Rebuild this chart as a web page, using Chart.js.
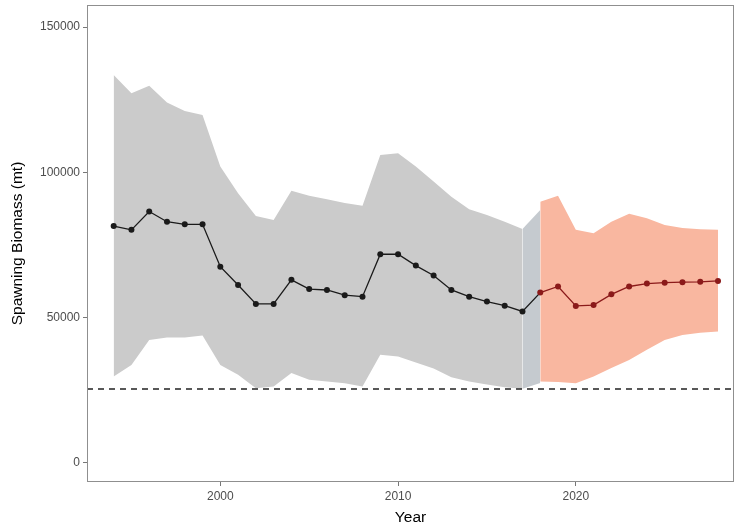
<!DOCTYPE html>
<html>
<head>
<meta charset="utf-8">
<script src="https://cdn.jsdelivr.net/npm/chart.js@4/dist/chart.umd.min.js"></script>
<style>
  html, body { margin: 0; padding: 0; background: #fff; }
  #wrap { width: 738px; height: 527px; }
</style>
</head>
<body>
<div id="wrap"><canvas id="chart" width="738" height="527"></canvas></div>
<script>
// values
const years = [1994, 1995, 1996, 1997, 1998, 1999, 2000, 2001, 2002, 2003, 2004, 2005,
  2006, 2007, 2008, 2009, 2010, 2011, 2012, 2013, 2014, 2015, 2016, 2017,
  2018, 2019, 2020, 2021, 2022, 2023, 2024, 2025, 2026, 2027, 2028];
const biomass = [81500, 80200, 86500, 83000, 82100, 82100, 67500, 61200, 54700, 54700, 63000, 59800,
  59500, 57700, 57200, 71800, 71800, 67900, 64500, 59500, 57200, 55500, 54100, 52100,
  58600, 60700, 54000, 54300, 58000, 60700, 61700, 62000, 62200, 62300, 62600];

const histYears = [1994, 1995, 1996, 1997, 1998, 1999, 2000, 2001, 2002, 2003, 2004, 2005,
  2006, 2007, 2008, 2009, 2010, 2011, 2012, 2013, 2014, 2015, 2016, 2017];
const histUpper = [133500, 127200, 129800, 124000, 121100, 119700, 102000, 92800, 85000, 83600, 93700, 91900,
  90700, 89400, 88500, 106000, 106600, 102000, 96800, 91600, 87300, 85300, 83000, 80500];
const histLower = [29700, 33700, 42300, 43100, 43100, 43800, 33700, 30300, 25700, 26300, 30900, 28600,
  28000, 27400, 26300, 37200, 36600, 34500, 32500, 29500, 28000, 27000, 26000, 25500];

const bridgeYears = [2017, 2018];
const bridgeUpper = [80500, 87000];
const bridgeLower = [25500, 27500];

const projYears = [2018, 2019, 2020, 2021, 2022, 2023, 2024, 2025, 2026, 2027, 2028];
const projUpper = [89900, 91900, 80200, 79000, 83000, 85700, 84200, 81900, 80800, 80400, 80200];
const projLower = [28000, 27800, 27400, 29700, 32600, 35400, 38900, 42300, 44000, 44800, 45200];

const refLevel = 25400;
const firstProjYear = 2018;

const xTicks = [2000, 2010, 2020];
const yTicks = [0, 50000, 100000, 150000];

const xMin = 1992.5, xMax = 2028.9;
const yMin = -6600, yMax = 157600;

const black = '#1a1a1a';
const red = '#8b1a1a';
const tickColor = '#4d4d4d';
const font = 'Liberation Sans, Arial, Helvetica, sans-serif';

function pts(xs, ys) {
  return xs.map((x, i) => ({ x: x, y: ys[i] }));
}

function band(xs, ys, color, fill) {
  return {
    data: pts(xs, ys),
    borderWidth: 0,
    pointRadius: 0,
    backgroundColor: color,
    fill: fill,
    tension: 0
  };
}

const projStart = years.indexOf(firstProjYear);

const panelBorder = {
  id: 'panelBorder',
  afterDraw(chart) {
    const a = chart.chartArea;
    const ctx = chart.ctx;
    ctx.save();
    ctx.strokeStyle = '#8f8f8f';
    ctx.lineWidth = 1;
    ctx.strokeRect(a.left + 0.5, a.top + 0.5, a.right - a.left - 1, a.bottom - a.top - 1);
    ctx.restore();
  }
};

new Chart(document.getElementById('chart'), {
  type: 'line',
  data: {
    datasets: [
      {
        data: pts(years, biomass),
        borderColor: black,
        borderWidth: 1.3,
        pointRadius: 3,
        pointBackgroundColor: years.map(y => y >= firstProjYear ? red : black),
        pointBorderWidth: 0,
        fill: false,
        tension: 0,
        segment: {
          borderColor: c => c.p0DataIndex >= projStart ? red : black
        }
      },
      {
        data: [{ x: xMin, y: refLevel }, { x: xMax, y: refLevel }],
        borderColor: '#222',
        borderWidth: 1.5,
        borderDash: [6, 5],
        pointRadius: 0,
        fill: false
      },
      band(histYears, histLower, 'rgba(0,0,0,0)', false),
      band(histYears, histUpper, '#cbcbcb', '-1'),
      band(bridgeYears, bridgeLower, 'rgba(0,0,0,0)', false),
      band(bridgeYears, bridgeUpper, '#c5cacf', '-1'),
      band(projYears, projLower, 'rgba(0,0,0,0)', false),
      band(projYears, projUpper, '#f9b7a0', '-1')
    ]
  },
  options: {
    responsive: false,
    animation: false,
    layout: { padding: { top: 5, right: -3, left: 0, bottom: 0 } },
    plugins: { legend: { display: false }, tooltip: { enabled: false } },
    scales: {
      x: {
        type: 'linear',
        min: xMin,
        max: xMax,
        afterBuildTicks: s => { s.ticks = xTicks.map(v => ({ value: v })); },
        afterFit: s => { s.height = 45; s.paddingLeft = 0; s.paddingRight = 0; },
        border: { display: false },
        grid: { drawOnChartArea: false, tickLength: 4, color: '#777' },
        ticks: { color: tickColor, font: { family: font, size: 12 }, padding: 3, callback: v => String(v) },
        title: { display: true, text: 'Year', color: '#000', font: { family: font, size: 15.5 }, padding: { top: 4, bottom: 0 } }
      },
      y: {
        type: 'linear',
        min: yMin,
        max: yMax,
        afterBuildTicks: s => { s.ticks = yTicks.map(v => ({ value: v })); },
        afterFit: s => { s.width = 87; s.paddingTop = 0; s.paddingBottom = 0; },
        border: { display: false },
        grid: { drawOnChartArea: false, tickLength: 4, color: '#777' },
        ticks: { color: tickColor, font: { family: font, size: 12 }, padding: 3, callback: v => String(v) },
        title: { display: true, text: 'Spawning Biomass (mt)', color: '#000', font: { family: font, size: 15.5 }, padding: { top: 8, bottom: 0 } }
      }
    }
  },
  plugins: [panelBorder]
});
</script>
</body>
</html>
